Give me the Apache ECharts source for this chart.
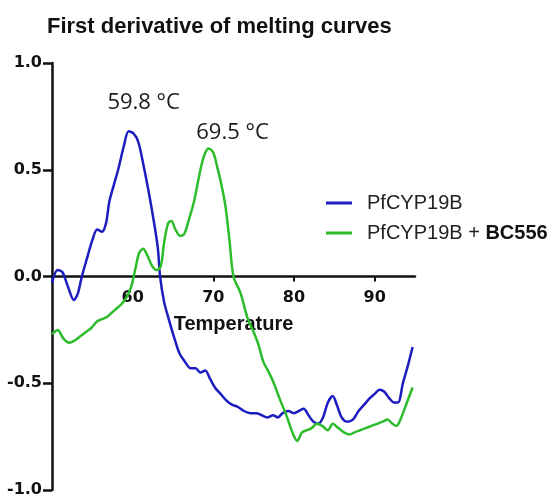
<!DOCTYPE html>
<html>
<head>
<meta charset="utf-8">
<script src="https://cdn.jsdelivr.net/npm/echarts@6/dist/echarts.min.js"></script>
<style>
html, body { margin: 0; padding: 0; background: #fff; }
#div1 { width: 553px; height: 497px; }
</style>
</head>
<body>
<div id="div1"></div>
<script>
// 曲线数据 (温度, 一阶导数)
var blueT = [50.0, 50.7, 51.3, 52.0, 52.7, 53.2, 53.7, 54.3, 55.0, 55.6, 56.2, 56.7, 57.1, 57.6, 58.2, 58.9, 59.5, 60.1, 60.7, 61.4, 62.3, 63.1, 63.4,
    63.9, 64.4, 65.1, 65.8, 66.5, 67.2, 67.8, 68.4, 69.0, 69.6, 70.2, 70.9, 71.6, 72.3, 73.0, 73.8, 74.6, 75.3, 76.0, 76.7, 77.4, 78.0,
    78.6, 79.3, 80.0, 80.6, 81.2, 81.8, 82.4, 83.0, 83.6, 84.2, 84.8, 85.3, 85.9, 86.6, 87.3, 88.0, 88.7, 89.4, 90.0, 90.6, 91.2, 91.8,
    92.4, 92.9, 93.5, 94.1, 94.7];
var blueV = [-0.03, 0.03, 0.02, -0.05, -0.11, -0.08, 0.0, 0.08, 0.17, 0.22, 0.21, 0.25, 0.35, 0.42, 0.50, 0.61, 0.68, 0.67, 0.63, 0.51, 0.33, 0.14, 0.0,
    -0.12, -0.19, -0.28, -0.36, -0.40, -0.43, -0.43, -0.45, -0.44, -0.48, -0.52, -0.55, -0.58, -0.60, -0.61, -0.63, -0.64, -0.64, -0.65, -0.66, -0.65, -0.66,
    -0.64, -0.63, -0.64, -0.63, -0.62, -0.65, -0.68, -0.69, -0.66, -0.59, -0.56, -0.60, -0.66, -0.68, -0.67, -0.63, -0.60, -0.57, -0.55, -0.53, -0.54, -0.57,
    -0.59, -0.59, -0.50, -0.42, -0.33];

var greenT = [50.0, 50.7, 51.4, 52.1, 52.8, 53.5, 54.2, 54.9, 55.6, 56.2, 56.8, 57.4, 58.0, 58.6, 59.2, 59.8, 60.3, 60.8, 61.3, 61.8, 62.4, 63.0, 63.5,
    63.9, 64.4, 64.8, 65.3, 65.9, 66.4, 67.0, 67.6, 68.4, 68.9, 69.4, 70.0, 70.5, 71.0, 71.5, 72.0, 72.5, 73.4, 74.2, 75.0, 75.6, 76.2,
    76.9, 77.5, 78.3, 79.1, 79.8, 80.4, 81.0, 81.6, 82.2, 82.8, 83.5, 84.2, 84.8, 85.5, 86.2, 86.9, 87.5, 88.2, 88.9, 89.6, 90.3, 91.0,
    91.6, 92.2, 92.7, 93.3, 94.0, 94.7];
var greenV = [-0.27, -0.25, -0.29, -0.31, -0.30, -0.28, -0.26, -0.24, -0.21, -0.20, -0.19, -0.17, -0.15, -0.13, -0.10, -0.05, 0.03, 0.11, 0.13, 0.10, 0.05, 0.03, 0.05,
    0.16, 0.25, 0.26, 0.22, 0.19, 0.20, 0.27, 0.35, 0.50, 0.57, 0.60, 0.58, 0.51, 0.43, 0.33, 0.17, 0.0, -0.08, -0.19, -0.26, -0.32, -0.40,
    -0.45, -0.50, -0.58, -0.655, -0.73, -0.77, -0.73, -0.72, -0.71, -0.69, -0.70, -0.72, -0.69, -0.71, -0.73, -0.74, -0.73, -0.72, -0.71, -0.70, -0.69, -0.68,
    -0.67, -0.69, -0.70, -0.66, -0.59, -0.52];

var seriesNames = ['PfCYP19B', 'PfCYP19B + BC556'];
var peakLabels = ['59.8 °C', '69.5 °C'];
var peakBlue = [59.5, 0.68];
var peakGreen = [69.4, 0.60];
var xTicks = [60, 70, 80, 90];

function pairs(t, v) {
    var out = [];
    for (var i = 0; i < t.length; i++) {
        out.push([t[i], v[i]]);
    }
    return out;
}

var chart = echarts.init(document.getElementById('div1'));
var font = 'Liberation Sans, Arial, sans-serif';
var tickFont = 'DejaVu Sans, sans-serif';
var option = {
    animation: false,
    title: {
        text: 'First derivative of melting curves',
        left: 42,
        top: 11,
        textStyle: { fontFamily: font, fontSize: 22, fontWeight: 'bold', color: '#111' }
    },
    legend: {
        data: seriesNames,
        orient: 'vertical',
        left: 326,
        top: 193,
        padding: 0,
        icon: 'rect',
        itemWidth: 26,
        itemHeight: 3,
        itemGap: 10,
        textStyle: {
            fontFamily: font, fontSize: 20, color: '#222', padding: [0, 0, 0, 10],
            rich: { b: { fontFamily: font, fontSize: 20, fontWeight: 'bold', color: '#111' } }
        },
        formatter: function (name) {
            if (name === seriesNames[1]) return 'PfCYP19B + {b|BC556}';
            return name;
        }
    },
    grid: { left: 52, right: 138, top: 63, bottom: 7, outerBoundsMode: 'none' },
    xAxis: {
        type: 'value',
        min: 50,
        max: 95,
        interval: 10,
        position: 'bottom',
        offset: -213.5,
        name: 'Temperature',
        nameLocation: 'middle',
        nameGap: 38,
        nameTextStyle: { fontFamily: font, fontSize: 20, fontWeight: 'bold', color: '#111' },
        axisLine: { onZero: false, lineStyle: { color: '#111', width: 2.5 } },
        axisTick: { length: 5, lineStyle: { color: '#111', width: 2 }, customValues: xTicks },
        axisLabel: { fontFamily: tickFont, fontSize: 16, fontWeight: 'bold', color: '#111', margin: 13, customValues: xTicks },
        splitLine: { show: false }
    },
    yAxis: {
        type: 'value',
        min: -1,
        max: 1,
        interval: 0.5,
        axisLine: { show: true, onZero: false, lineStyle: { color: '#111', width: 2.5 } },
        axisTick: { show: true, length: 9, lineStyle: { color: '#111', width: 2.5 } },
        axisLabel: {
            fontFamily: tickFont, fontSize: 16, fontWeight: 'bold', color: '#111', margin: 10,
            formatter: function (v) { return v.toFixed(1); }
        },
        splitLine: { show: false }
    },
    series: [
        {
            name: seriesNames[0],
            type: 'line',
            symbol: 'none',
            smooth: 0.3,
            lineStyle: { color: '#1c1cc0', width: 2.5 },
            itemStyle: { color: '#1c1cc0' },
            data: pairs(blueT, blueV),
            markPoint: {
                symbol: 'circle',
                symbolSize: 0,
                label: {
                    show: true, position: 'inside', offset: [15, -29],
                    fontFamily: 'Open Sans, sans-serif', fontSize: 22, color: '#1a1a1a'
                },
                data: [{ coord: peakBlue, value: peakLabels[0] }]
            }
        },
        {
            name: seriesNames[1],
            type: 'line',
            symbol: 'none',
            smooth: 0.3,
            lineStyle: { color: '#2cbc2c', width: 2.5 },
            itemStyle: { color: '#2cbc2c' },
            data: pairs(greenT, greenV),
            markPoint: {
                symbol: 'circle',
                symbolSize: 0,
                label: {
                    show: true, position: 'inside', offset: [24, -16],
                    fontFamily: 'Open Sans, sans-serif', fontSize: 22, color: '#1a1a1a'
                },
                data: [{ coord: peakGreen, value: peakLabels[1] }]
            }
        }
    ]
};
chart.setOption(option);
</script>
</body>
</html>
